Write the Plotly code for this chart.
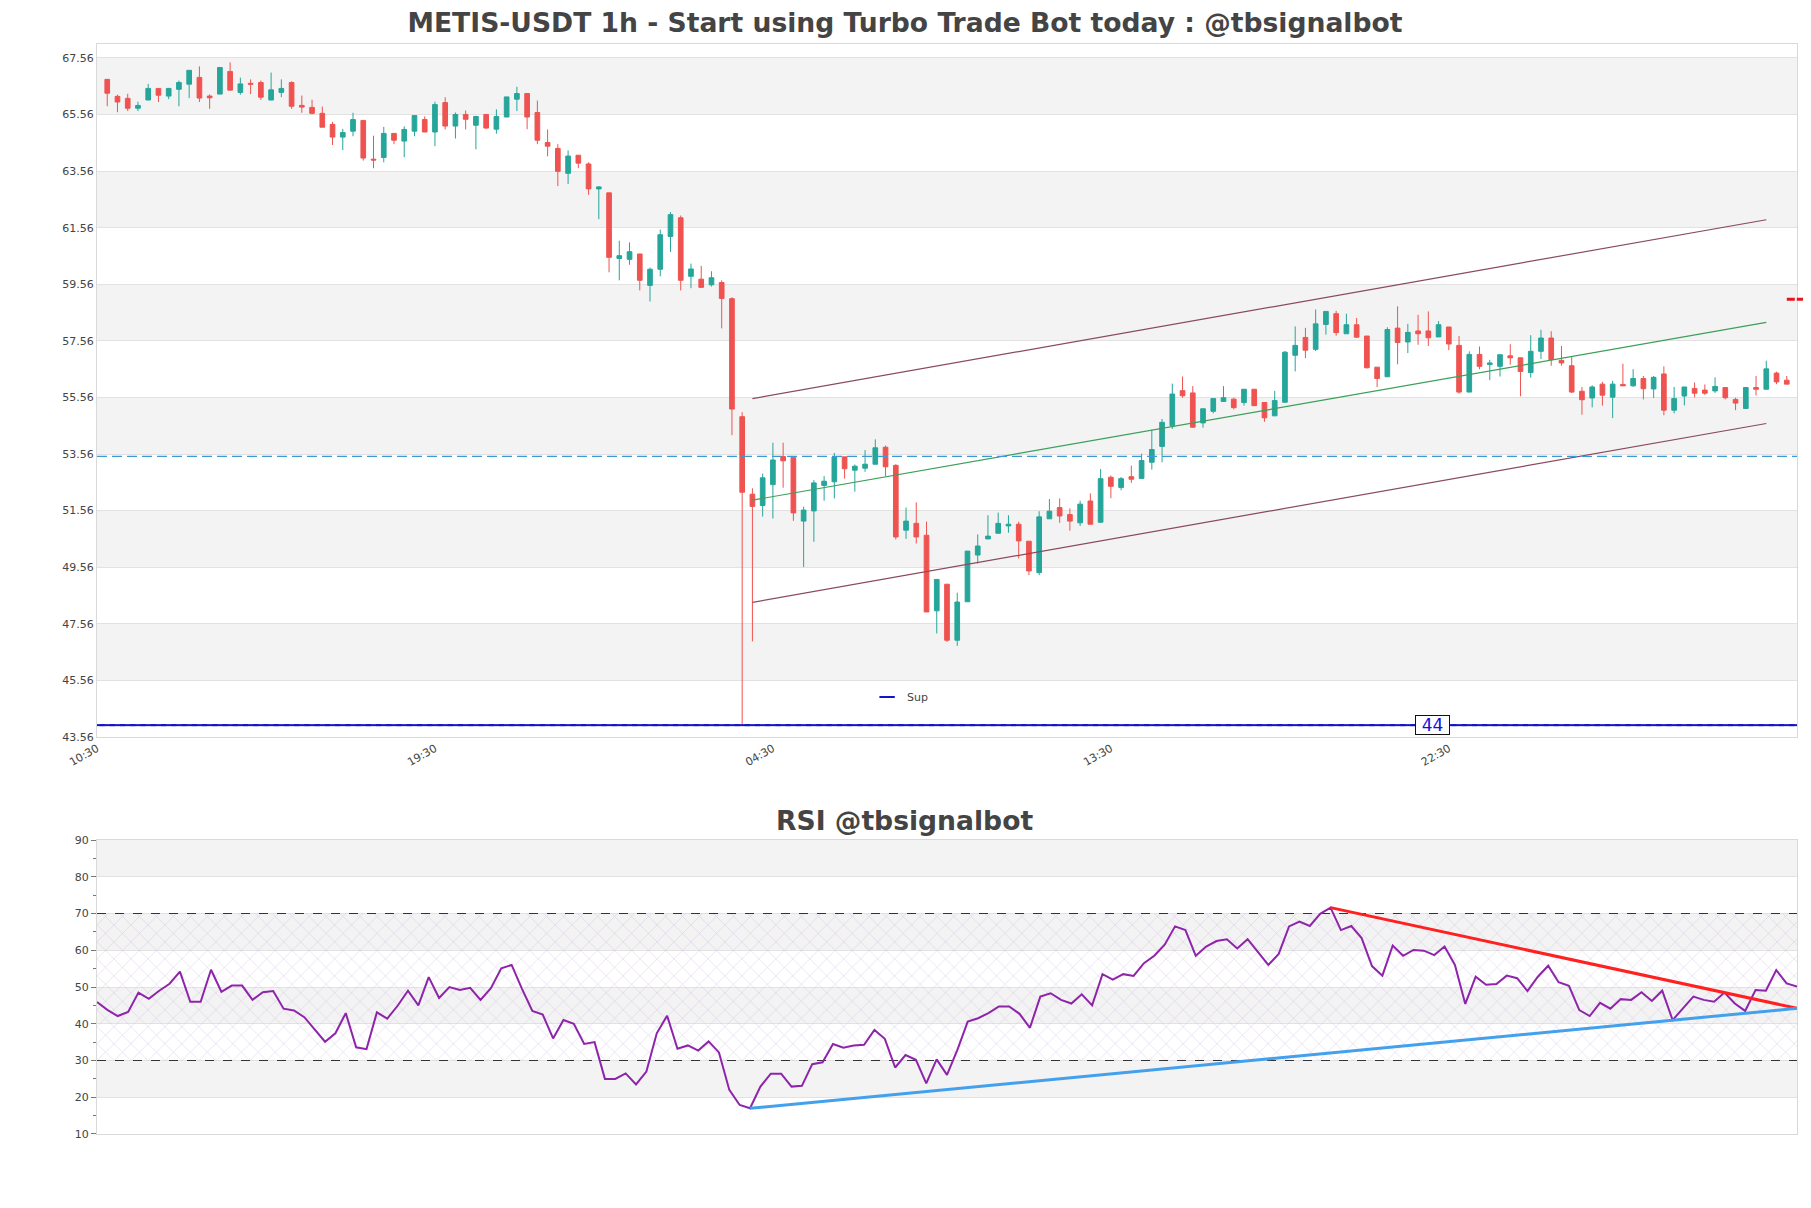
import plotly.graph_objects as go

# hourly candles, index 0..164
open_ = [66.80, 66.20, 66.13, 65.78, 66.07, 66.48, 66.21, 66.45, 66.63, 66.87,
         66.21, 66.28, 67.08, 66.34, 66.66, 66.69, 66.07, 66.34, 66.69, 65.88,
         65.81, 65.60, 65.21, 64.76, 64.97, 65.35, 63.98, 64.04, 64.89, 64.62,
         64.97, 65.38, 64.94, 65.98, 65.15, 65.56, 65.18, 65.56, 65.04, 65.47,
         66.10, 66.30, 65.63, 64.57, 64.36, 63.48, 64.12, 63.81, 62.93, 62.79,
         60.47, 60.44, 60.63, 59.52, 60.09, 61.25, 61.91, 59.84, 59.74, 59.54,
         59.62, 59.05, 54.88, 52.14, 51.74, 52.48, 53.47, 53.45, 51.19, 51.55,
         52.45, 52.58, 53.46, 52.99, 53.06, 53.20, 53.80, 53.16, 50.87, 51.11,
         50.69, 48.02, 48.96, 46.98, 48.34, 49.99, 50.56, 50.76, 51.02, 51.08,
         50.48, 49.37, 51.27, 51.67, 51.42, 51.13, 51.90, 51.15, 52.74, 52.38,
         52.76, 52.70, 53.27, 53.83, 54.56, 55.80, 55.72, 54.66, 55.07, 55.42,
         55.50, 55.38, 55.85, 55.38, 54.91, 55.39, 57.05, 57.68, 57.26, 58.14,
         58.52, 57.81, 58.13, 57.73, 56.63, 56.29, 58.01, 57.52, 57.91, 57.91,
         57.70, 58.05, 57.40, 55.75, 57.08, 56.72, 56.66, 57.03, 56.96, 56.44,
         57.19, 57.66, 56.87, 56.68, 55.78, 55.54, 56.03, 55.57, 56.02, 55.97,
         56.23, 55.86, 56.39, 55.11, 55.61, 55.88, 55.82, 55.79, 55.91, 55.49,
         55.17, 55.91, 55.85, 56.42, 56.17]
high = [66.80, 66.26, 66.29, 66.01, 66.64, 66.48, 66.50, 66.76, 67.12, 67.26,
        66.27, 67.22, 67.40, 66.86, 66.80, 66.76, 67.04, 66.80, 66.73, 66.23,
        66.08, 65.84, 65.30, 65.05, 65.62, 65.35, 64.81, 65.12, 64.89, 65.14,
        65.52, 65.49, 66.01, 66.17, 65.63, 65.70, 65.51, 65.56, 65.74, 66.18,
        66.54, 66.30, 66.05, 65.03, 64.51, 64.29, 64.12, 63.87, 63.03, 62.79,
        61.10, 61.04, 60.63, 60.15, 61.49, 62.11, 61.99, 60.29, 60.21, 60.02,
        59.70, 59.10, 55.04, 52.35, 52.87, 53.96, 53.96, 53.45, 51.70, 52.64,
        52.78, 53.60, 53.46, 53.19, 53.70, 54.08, 53.86, 53.20, 51.67, 51.85,
        51.17, 49.13, 48.96, 48.66, 50.13, 50.72, 51.40, 51.49, 51.40, 51.17,
        50.48, 51.54, 51.97, 51.99, 51.64, 51.91, 52.17, 53.03, 52.80, 52.75,
        53.15, 53.57, 54.42, 54.80, 56.05, 56.30, 55.96, 55.16, 55.52, 55.96,
        55.55, 55.85, 55.85, 55.38, 55.79, 57.20, 58.07, 58.02, 58.67, 58.60,
        58.62, 58.52, 58.37, 57.73, 56.63, 58.04, 58.78, 58.16, 58.48, 58.60,
        58.26, 58.05, 57.73, 57.19, 57.36, 56.89, 57.07, 57.44, 56.96, 57.76,
        57.95, 57.90, 57.38, 57.02, 55.93, 55.99, 56.11, 56.15, 56.75, 56.56,
        56.32, 56.32, 56.66, 55.93, 55.93, 56.09, 56.02, 56.27, 55.91, 55.55,
        55.93, 56.32, 56.86, 56.47, 56.32]
low = [65.85, 65.64, 65.68, 65.68, 66.07, 66.00, 66.10, 65.85, 66.14, 66.00,
       65.76, 66.28, 66.42, 66.26, 66.28, 66.07, 66.07, 66.17, 65.76, 65.62,
       65.56, 65.11, 64.48, 64.30, 64.79, 63.93, 63.66, 63.87, 64.51, 64.05,
       64.79, 64.94, 64.44, 65.03, 64.71, 65.03, 64.33, 65.05, 64.88, 65.47,
       65.68, 65.04, 64.51, 64.08, 63.03, 63.10, 63.66, 62.72, 61.86, 59.98,
       59.70, 60.25, 59.34, 58.95, 59.84, 60.70, 59.34, 59.42, 59.45, 59.48,
       58.00, 54.23, 43.98, 46.94, 51.35, 51.28, 52.37, 51.20, 49.57, 50.46,
       51.91, 51.99, 52.69, 52.23, 52.93, 53.20, 52.78, 50.54, 50.56, 50.40,
       47.98, 47.22, 46.92, 46.78, 48.34, 49.69, 50.56, 50.76, 50.78, 49.87,
       49.28, 49.28, 51.27, 51.13, 50.85, 51.02, 51.08, 51.15, 52.00, 52.28,
       52.54, 52.70, 53.01, 53.27, 54.45, 55.55, 54.49, 54.49, 55.00, 55.42,
       55.14, 55.27, 55.27, 54.70, 54.91, 55.39, 56.48, 56.95, 57.20, 57.78,
       57.74, 57.81, 57.67, 56.58, 55.93, 56.29, 56.73, 57.13, 57.42, 57.38,
       57.70, 57.23, 55.69, 55.75, 56.56, 56.17, 56.30, 56.72, 55.60, 56.26,
       56.92, 56.68, 56.68, 55.72, 54.95, 55.21, 55.27, 54.83, 55.97, 55.93,
       55.49, 55.54, 54.93, 55.00, 55.28, 55.56, 55.65, 55.72, 55.49, 55.11,
       55.17, 55.63, 55.85, 56.03, 56.03]
close = [66.31, 66.00, 65.78, 65.88, 66.48, 66.24, 66.48, 66.69, 67.12, 66.14,
         66.15, 67.22, 66.42, 66.64, 66.63, 66.17, 66.43, 66.48, 65.85, 65.82,
         65.60, 65.11, 64.76, 64.92, 65.38, 64.02, 63.95, 64.89, 64.65, 65.03,
         65.52, 64.94, 65.91, 65.15, 65.56, 65.39, 65.49, 65.08, 65.49, 66.18,
         66.30, 65.47, 64.65, 64.44, 63.55, 64.09, 63.84, 62.93, 63.00, 60.51,
         60.57, 60.71, 59.70, 60.09, 61.31, 62.02, 59.70, 60.10, 59.45, 59.79,
         59.06, 55.15, 52.21, 51.71, 52.72, 53.35, 53.32, 51.48, 51.58, 52.54,
         52.60, 53.46, 53.04, 53.13, 53.20, 53.78, 53.11, 50.63, 51.19, 50.63,
         47.98, 49.13, 46.98, 48.33, 50.13, 50.31, 50.66, 51.11, 51.08, 50.49,
         49.43, 51.34, 51.54, 51.37, 51.19, 51.79, 51.08, 52.69, 52.42, 52.69,
         52.67, 53.33, 53.72, 54.68, 55.68, 55.62, 54.51, 55.16, 55.52, 55.55,
         55.20, 55.85, 55.27, 54.84, 55.45, 57.16, 57.40, 57.23, 58.16, 58.60,
         57.85, 58.13, 57.69, 56.61, 56.23, 57.96, 57.50, 57.86, 57.81, 57.67,
         58.13, 57.45, 55.75, 57.08, 56.66, 56.78, 57.07, 56.96, 56.48, 57.19,
         57.66, 56.90, 56.78, 55.75, 55.48, 55.93, 55.64, 56.03, 55.97, 56.23,
         55.87, 56.27, 55.11, 55.52, 55.93, 55.71, 55.71, 55.95, 55.55, 55.36,
         55.91, 55.85, 56.57, 56.11, 56.03]

rsi = [45.9, 43.8, 42.1, 43.2, 48.5, 46.8, 49.0, 50.9, 54.2, 46.0,
       46.0, 54.7, 48.7, 50.4, 50.4, 46.5, 48.6, 48.9, 44.1, 43.6,
       41.8, 38.3, 35.1, 37.4, 42.9, 33.6, 33.1, 43.1, 41.4, 44.9,
       49.0, 45.0, 52.7, 47.0, 50.0, 49.2, 49.8, 46.5, 49.7, 55.1,
       56.0, 49.5, 43.5, 42.5, 36.0, 41.0, 40.0, 34.5, 35.0, 25.0,
       25.0, 26.5, 23.5, 27.0, 37.4, 42.2, 33.2, 34.1, 32.7, 35.2,
       32.2, 22.0, 17.9, 17.0, 22.9, 26.4, 26.4, 22.9, 23.1, 29.0,
       29.5, 34.5, 33.5, 34.1, 34.3, 38.3, 35.9, 28.1, 31.5, 30.2,
       23.8, 30.3, 26.1, 32.9, 40.6, 41.5, 42.9, 44.7, 44.7, 42.7,
       38.9, 47.4, 48.3, 46.5, 45.5, 48.0, 45.0, 53.5, 52.0, 53.5,
       53.0, 56.5, 58.5, 61.5, 66.5, 65.5, 58.5, 61.0, 62.5, 63.0,
       60.5, 63.0, 59.5, 56.0, 59.0, 66.5, 67.8, 66.6, 69.9, 71.6,
       65.5, 66.6, 63.3, 55.7, 53.1, 61.3, 58.5, 60.1, 59.9, 58.7,
       61.0, 56.0, 45.4, 52.8, 50.6, 50.8, 53.1, 52.4, 48.9, 52.8,
       55.8, 51.3, 50.3, 43.7, 42.1, 45.7, 44.1, 46.7, 46.5, 48.6,
       46.2, 49.0, 41.0, 44.2, 47.4, 46.5, 46.0, 48.5, 45.5, 43.5,
       49.2, 49.0, 54.6, 51.0, 50.1]

idx = list(range(len(close)))

# channel (start/end candle, price at ends)
channel_x = [63, 162]
channel_upper = [55.52, 61.84]
channel_mid = [51.93, 58.21]
channel_lower = [48.32, 54.64]

resistance_level = 53.48
sup_level = 43.98
last_marker = 59.03

# rsi trend lines
rsi_res_x = [119, 164]
rsi_res_y = [71.6, 44.2]
rsi_sup_x = [63, 164]
rsi_sup_y = [17.0, 44.2]

xtick_pos = [-1, 32, 65, 98, 131]
xtick_txt = ["10:30", "19:30", "04:30", "13:30", "22:30"]

UP = "#26a69a"
DOWN = "#ef5350"
BAND = "#f3f3f3"
GRID = "#e2e2e2"
BORDER = "#d9d9d9"
FONT = "DejaVu Sans, Verdana, sans-serif"

fig = go.Figure()

fig.add_trace(go.Candlestick(
    x=idx, open=open_, high=high, low=low, close=close,
    increasing=dict(line=dict(color=UP, width=1), fillcolor=UP),
    decreasing=dict(line=dict(color=DOWN, width=1), fillcolor=DOWN),
    whiskerwidth=0, showlegend=False, hoverinfo="skip",
    xaxis="x", yaxis="y"))

for ys, col in [(channel_upper, "#8a4a5e"), (channel_mid, "#3aa05a"), (channel_lower, "#8a4a5e")]:
    fig.add_trace(go.Scatter(x=channel_x, y=ys, mode="lines",
                             line=dict(color=col, width=1.2),
                             showlegend=False, xaxis="x", yaxis="y"))

fig.add_trace(go.Scatter(x=[-1, 165], y=[resistance_level] * 2, mode="lines",
                         line=dict(color="#3a9ad9", width=1.2, dash="10px,5px"),
                         showlegend=False, xaxis="x", yaxis="y"))

sup_x = list(range(-1, 166))
fig.add_trace(go.Scatter(x=sup_x, y=[sup_level] * len(sup_x), mode="markers",
                         marker=dict(symbol="line-ew", size=11,
                                     line=dict(width=2, color="#1414c8")),
                         name="Sup", xaxis="x", yaxis="y"))

# rsi panel
fig.add_trace(go.Scatter(x=[0, 164, 164, 0, 0], y=[30, 30, 70, 70, 30], mode="lines",
                         fill="toself", fillcolor="rgba(0,0,0,0)",
                         fillpattern=dict(shape="x", fgcolor="#c4acd8", fgopacity=0.65,
                                          size=12, solidity=0.08),
                         line=dict(width=0), showlegend=False, hoverinfo="skip",
                         xaxis="x2", yaxis="y2"))
for lvl in (70, 30):
    fig.add_trace(go.Scatter(x=[0, 164], y=[lvl, lvl], mode="lines",
                             line=dict(color="#333333", width=1.2, dash="dash"),
                             showlegend=False, xaxis="x2", yaxis="y2"))
fig.add_trace(go.Scatter(x=idx, y=rsi, mode="lines", line=dict(color="#8e24aa", width=2),
                         showlegend=False, xaxis="x2", yaxis="y2"))
fig.add_trace(go.Scatter(x=rsi_res_x, y=rsi_res_y, mode="lines",
                         line=dict(color="#ff2020", width=3),
                         showlegend=False, xaxis="x2", yaxis="y2"))
fig.add_trace(go.Scatter(x=rsi_sup_x, y=rsi_sup_y, mode="lines",
                         line=dict(color="#42a0ec", width=3),
                         showlegend=False, xaxis="x2", yaxis="y2"))

# alternating background bands
shapes = []
for lo in [45.56, 49.56, 53.56, 57.56, 61.56, 65.56]:
    shapes.append(dict(type="rect", xref="x domain", yref="y", x0=0, x1=1, y0=lo, y1=lo + 2,
                       fillcolor=BAND, line_width=0, layer="below"))
for lo in [20, 40, 60, 80]:
    shapes.append(dict(type="rect", xref="x2 domain", yref="y2", x0=0, x1=1, y0=lo, y1=lo + 10,
                       fillcolor=BAND, line_width=0, layer="below"))
shapes.append(dict(type="line", xref="paper", yref="y", x0=0.994, x1=1.008,
                   y0=last_marker, y1=last_marker, line=dict(color="#e8141e", width=3, dash="8px,2px")))

axis_common = dict(showline=True, mirror=True, linecolor=BORDER, linewidth=1,
                   tickfont=dict(size=11, color="#444"))

fig.update_layout(
    width=1803, height=1200,
    margin=dict(l=89, r=14, t=36, b=74),
    paper_bgcolor="white", plot_bgcolor="white",
    font=dict(family=FONT, color="#444"),
    title=dict(text="<b>METIS-USDT 1h - Start using Turbo Trade Bot today : @tbsignalbot</b>",
               x=0.4975, xref="container", y=0.9875, yanchor="middle",
               font=dict(size=26.6, color="#444", family=FONT)),
    boxgap=0.35,
    shapes=shapes,
    xaxis=dict(domain=[0, 1], anchor="y", range=[-1, 165], rangeslider=dict(visible=False),
               tickmode="array", tickvals=xtick_pos, ticktext=xtick_txt, tickangle=-30,
               showgrid=False, zeroline=False, **axis_common),
    yaxis=dict(domain=[0.3642, 1], anchor="x", range=[43.56, 68.05],
               tick0=43.56, dtick=2, tickformat=".2f", showgrid=True, gridcolor=GRID,
               zeroline=False, **axis_common),
    xaxis2=dict(domain=[0, 1], anchor="y2", range=[0, 164], showticklabels=False,
                showgrid=False, zeroline=False, **axis_common),
    yaxis2=dict(domain=[0, 0.2697], anchor="x2", range=[10, 90], dtick=10,
                ticks="outside", ticklen=5, tickcolor="#777",
                minor=dict(ticks="outside", ticklen=3, dtick=5, tickcolor="#777", showgrid=False),
                showgrid=True, gridcolor=GRID, zeroline=False, **axis_common),
    legend=dict(x=0.453, y=0.401, xanchor="left", yanchor="middle",
                bgcolor="rgba(0,0,0,0)", font=dict(size=11, color="#444")),
    annotations=[
        dict(text="<b>RSI @tbsignalbot</b>", xref="paper", yref="paper", x=0.475, y=0.288,
             showarrow=False, font=dict(size=26.6, color="#444", family=FONT), yanchor="middle"),
        dict(text="44", xref="x", yref="y", x=129.4, y=sup_level, showarrow=False,
             font=dict(size=17, color="#1010e0"), bgcolor="white", width=31, height=16,
             bordercolor="#111", borderwidth=1, borderpad=1),
    ],
)

fig.write_html("out.html")
